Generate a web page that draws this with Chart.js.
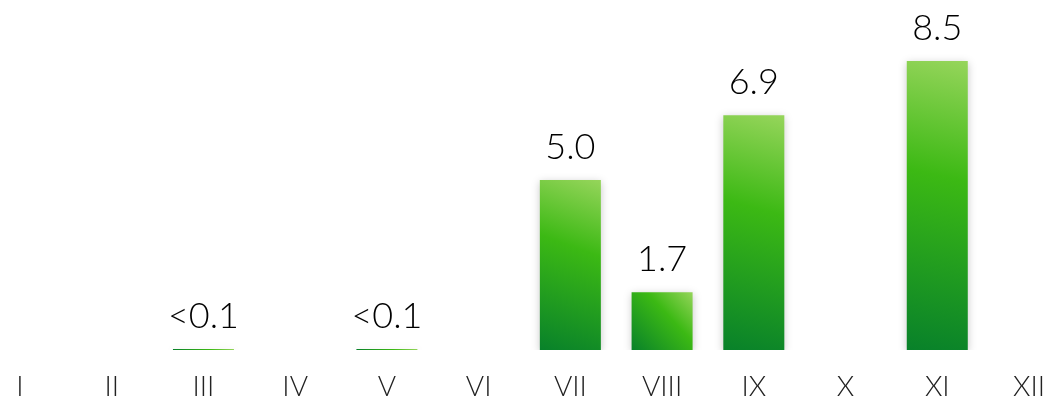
<!DOCTYPE html>
<html>
<head>
<meta charset="utf-8">
<script src="https://cdn.jsdelivr.net/npm/chart.js@4"></script>
<style>
  html, body { margin: 0; padding: 0; background: #fff; }
  #wrap { width: 1051px; height: 401px; }
</style>
</head>
<body>
<div id="wrap"><canvas id="myChart"></canvas></div>
<script>
  const months = ["I", "II", "III", "IV", "V", "VI", "VII", "VIII", "IX", "X", "XI", "XII"];
  const values = [null, null, 0.03, null, 0.03, null, 5.0, 1.7, 6.9, null, 8.5, null];
  const valueLabels = ["", "", "<0.1", "", "<0.1", "", "5.0", "1.7", "6.9", "", "8.5", ""];

  // degradado verde por barra (abajo-izq oscuro, arriba-der claro)
  function barGradient(context) {
    const chart = context.chart;
    const { x, y } = chart.scales;
    if (!x || !y) return "#3cb914";
    const v = context.raw;
    if (v == null) return "#3cb914";
    const cx = x.getPixelForValue(context.dataIndex);
    const half = 31;
    const top = y.getPixelForValue(v);
    const base = y.getPixelForValue(0);
    const g = chart.ctx.createLinearGradient(cx - half, base, cx + half, top);
    g.addColorStop(0, "#08812a");
    g.addColorStop(0.6, "#3cb914");
    g.addColorStop(1, "#96d55b");
    return g;
  }

  // sombra de las barras y etiquetas de valor
  const etiquetas = {
    id: "etiquetas",
    beforeDatasetsDraw(chart) {
      const ctx = chart.ctx;
      ctx.save();
      ctx.shadowColor = "rgba(0,0,0,0.22)";
      ctx.shadowBlur = 8;
      ctx.shadowOffsetX = 0;
      ctx.shadowOffsetY = 2;
    },
    afterDatasetsDraw(chart) {
      const ctx = chart.ctx;
      ctx.restore();
      const meta = chart.getDatasetMeta(0);
      ctx.save();
      ctx.font = "300 36px Lato";
      ctx.fillStyle = "#000";
      ctx.textAlign = "center";
      ctx.textBaseline = "alphabetic";
      meta.data.forEach((bar, i) => {
        if (!valueLabels[i]) return;
        ctx.fillText(valueLabels[i], bar.x, bar.y - 21);
      });
      ctx.restore();
    }
  };

  const ctx = document.getElementById("myChart").getContext("2d");
  new Chart(ctx, {
    type: "bar",
    data: {
      labels: months,
      datasets: [{
        data: values,
        backgroundColor: barGradient,
        borderWidth: 0,
        barPercentage: 0.665,
        categoryPercentage: 1
      }]
    },
    options: {
      responsive: true,
      maintainAspectRatio: false,
      animation: false,
      layout: { padding: { left: 20, right: 22, top: 0, bottom: 0 } },
      plugins: {
        legend: { display: false },
        tooltip: { enabled: false }
      },
      scales: {
        x: {
          offset: false,
          grid: { display: false, drawTicks: false },
          border: { display: false },
          ticks: {
            color: "#222",
            font: { family: "Lato", size: 28, weight: 300 },
            padding: 20,
            maxRotation: 0,
            autoSkip: false
          },
          afterFit(scale) {
            scale.height = 51;
            scale.paddingLeft = 0;
            scale.paddingRight = 0;
          }
        },
        y: {
          display: false,
          min: 0,
          max: 10.29
        }
      }
    },
    plugins: [etiquetas]
  });
</script>
</body>
</html>
